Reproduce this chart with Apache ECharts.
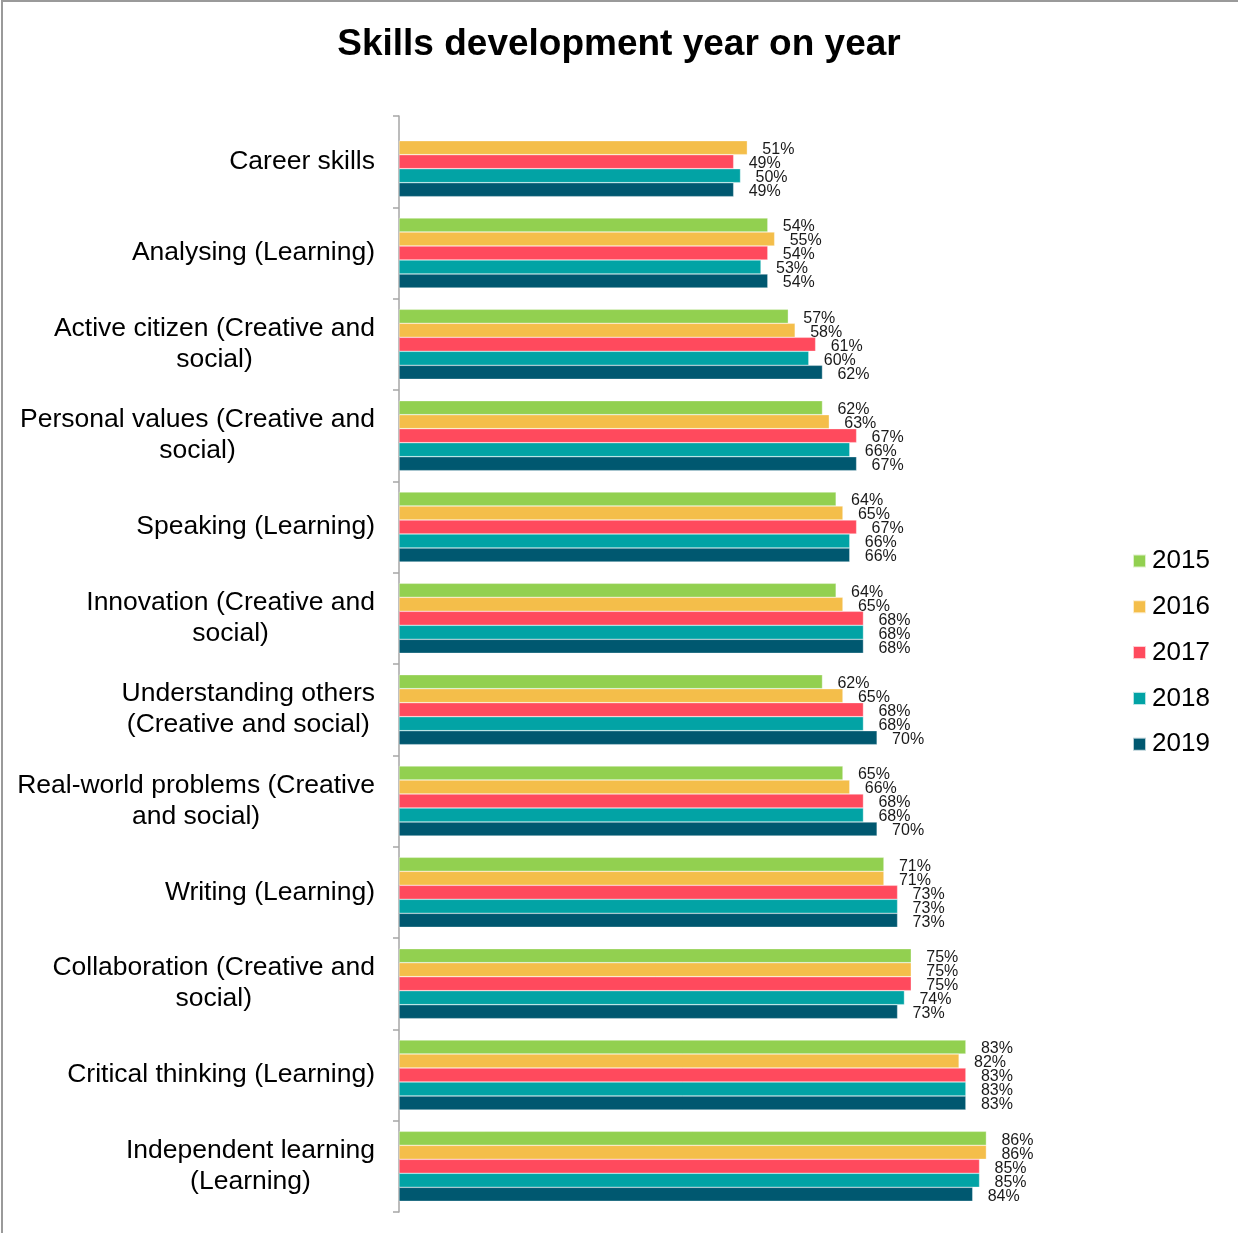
<!DOCTYPE html>
<html>
<head>
<meta charset="utf-8">
<title>Skills development year on year</title>
<script src="https://cdn.jsdelivr.net/npm/echarts@6/dist/echarts.min.js"></script>
<style>
  html, body { margin: 0; padding: 0; background: #fff; }
  #chart { width: 1238px; height: 1233px; }
</style>
</head>
<body>
<div id="chart"></div>
<script>
  // categories, top to bottom (line breaks as in the original labels)
  const categories = [
    'Career skills',
    'Analysing (Learning)',
    'Active citizen (Creative and\nsocial)',
    'Personal values (Creative and\nsocial)',
    'Speaking (Learning)',
    'Innovation (Creative and\nsocial)',
    'Understanding others\n(Creative and social)',
    'Real-world problems (Creative\nand social)',
    'Writing (Learning)',
    'Collaboration (Creative and\nsocial)',
    'Critical thinking (Learning)',
    'Independent learning\n(Learning)'
  ];

  const years = ['2015', '2016', '2017', '2018', '2019'];

  // percentages per year, same order as categories (no 2015 value for career skills)
  const values2015 = [null, 54, 57, 62, 64, 64, 62, 65, 71, 75, 83, 86];
  const values2016 = [51, 55, 58, 63, 65, 65, 65, 66, 71, 75, 82, 86];
  const values2017 = [49, 54, 61, 67, 67, 68, 68, 68, 73, 75, 83, 85];
  const values2018 = [50, 53, 60, 66, 66, 68, 68, 68, 73, 74, 83, 85];
  const values2019 = [49, 54, 62, 67, 66, 68, 70, 70, 73, 73, 83, 84];

  const colors = ['#92D050', '#F4BE4A', '#FF4A5D', '#02A3A5', '#005870'];

  const chart = echarts.init(document.getElementById('chart'));

  const allValues = [values2015, values2016, values2017, values2018, values2019];

  const series = years.map(function (year, i) {
    return {
      name: year,
      type: 'bar',
      data: allValues[i],
      barWidth: 14,
      barGap: '0%',
      itemStyle: {
        color: colors[i],
        borderColor: 'rgba(255,255,255,0.7)',
        borderWidth: 0.5
      },
      label: {
        show: true,
        position: 'right',
        distance: 15,
        offset: [0, 2],
        formatter: '{c}%',
        fontFamily: 'Liberation Sans, Arial, sans-serif',
        fontSize: 16,
        color: '#1a1a1a'
      },
      animation: false
    };
  });

  chart.setOption({
    backgroundColor: '#fff',
    title: {
      text: 'Skills development year on year',
      left: 'center',
      top: 21,
      textStyle: {
        fontFamily: 'Liberation Sans, Arial, sans-serif',
        fontSize: 37,
        fontWeight: 'bold',
        color: '#000'
      }
    },
    legend: {
      orient: 'vertical',
      left: 1132,
      top: 548,
      padding: 0,
      itemWidth: 13,
      itemHeight: 13,
      itemGap: 19.8,
      icon: 'rect',
      textStyle: {
        fontFamily: 'Liberation Sans, Arial, sans-serif',
        fontSize: 26,
        lineHeight: 26,
        color: '#000',
        padding: [0, 0, 0, 1]
      },
      data: years
    },
    grid: {
      left: 399,
      right: 156,
      top: 116,
      bottom: 21,
      containLabel: false
    },
    xAxis: {
      type: 'value',
      min: 0,
      max: 100,
      show: false
    },
    yAxis: {
      type: 'category',
      inverse: true,
      data: categories,
      axisLine: { show: true, lineStyle: { color: '#A6A6A6', width: 1.5 } },
      axisTick: { show: true, length: 6, lineStyle: { color: '#A6A6A6', width: 1.5 } },
      axisLabel: {
        margin: 24,
        color: '#000',
        fontFamily: 'Liberation Sans, Arial, sans-serif',
        fontSize: 26.5,
        lineHeight: 31,
        formatter: function (value) {
          // each line centred under the line above, block right aligned
          return value.split('\n').map(function (line) {
            return '{c|' + line + '}';
          }).join('\n');
        },
        rich: {
          c: {
            align: 'center',
            fontFamily: 'Liberation Sans, Arial, sans-serif',
            fontSize: 26.5,
            lineHeight: 31,
            color: '#000'
          }
        }
      }
    },
    graphic: [{
      type: 'rect',
      shape: { x: 2, y: 1, width: 1300, height: 1300 },
      style: { fill: 'none', stroke: '#9A9A9A', lineWidth: 2 },
      silent: true
    }],
    series: series
  });
</script>
</body>
</html>
